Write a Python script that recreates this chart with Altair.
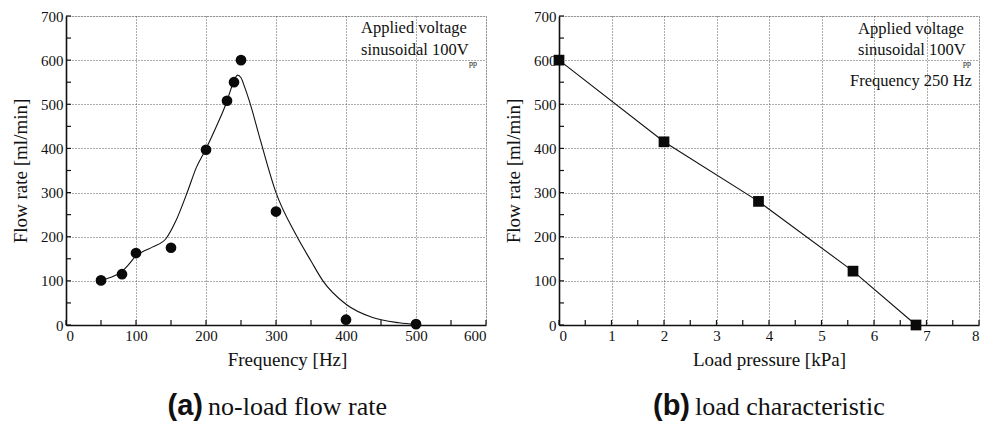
import altair as alt
import pandas as pd

# ---- data (a) no-load flow rate ----
freq_pts = [50, 80, 100, 150, 200, 230, 240, 250, 300, 400, 500]
flow_pts = [101, 115, 163, 175, 397, 508, 550, 600, 257, 12, 2]

curve_x = [50, 62, 79, 90, 100, 112, 124, 143, 157, 174, 186, 199, 214, 229, 238,
           245, 250, 255, 262, 278, 300, 328, 350, 367, 400, 438, 476, 500]
curve_y = [101, 107, 120, 138, 157, 168, 177, 196, 236, 304, 356, 396, 447, 503, 545,
           566, 560, 540, 507, 417, 300, 206, 145, 100, 47, 17, 5, 1]

# ---- data (b) load characteristic ----
press_pts = [0, 2, 3.8, 5.6, 6.8]
flow_b = [600, 415, 280, 122, 0]

# tick values
xa_major = [0, 100, 200, 300, 400, 500, 600]
xa_ticks = list(range(0, 601, 50))
xb_major = [0, 1, 2, 3, 4, 5, 6, 7, 8]
xb_ticks = [i * 0.5 for i in range(17)]
y_major = [0, 100, 200, 300, 400, 500, 600, 700]
y_ticks = list(range(0, 701, 50))

W, H = 420, 309
SERIF = "'Liberation Serif', 'Times New Roman', Times, serif"
SANS = "'Liberation Sans', Arial, Helvetica, sans-serif"
INK = "#111111"


def make_axis(title, values, orient, title_x=None):
    kw = dict(
        title=title, values=values, grid=True, gridDash=[1, 2], gridColor="#444444",
        gridWidth=0.9, ticks=False, domain=True, domainColor="#111111", domainWidth=1.6,
        labelFont=SERIF, labelFontSize=15, labelColor=INK, labelPadding=3,
        titleFont=SERIF, titleFontSize=19, titleFontWeight="normal", titleColor=INK,
    )
    if orient == "bottom":
        kw["titlePadding"] = 7
    else:
        kw["titlePadding"] = 10
    if title_x is not None:
        kw["titleX"] = title_x
    return alt.Axis(**kw)


def panel(xdomain, xmajor, xticks, xtitle, ydata_x, ydata_y, line_x, line_y,
          shape, interp, title_x, notes, caption_tag, caption_text, tag_x):
    xs = alt.Scale(domain=xdomain, nice=False, zero=False)
    ys = alt.Scale(domain=[0, 700], nice=False)
    xax = make_axis(xtitle, xmajor, "bottom", title_x)
    yax = make_axis("Flow rate [ml/min]", y_major, "left")

    pts = pd.DataFrame({"x": ydata_x, "y": ydata_y})
    ln = pd.DataFrame({"x": line_x, "y": line_y})

    line = alt.Chart(ln).mark_line(color="#111111", strokeWidth=1.1, interpolate=interp).encode(
        x=alt.X("x:Q", scale=xs, axis=xax),
        y=alt.Y("y:Q", scale=ys, axis=yax),
    )
    points = alt.Chart(pts).mark_point(shape=shape, filled=True, size=115, color="#0a0a0a", opacity=1).encode(
        x=alt.X("x:Q", scale=xs, axis=xax),
        y=alt.Y("y:Q", scale=ys, axis=yax),
    )
    xt = alt.Chart(pd.DataFrame({"x": xticks})).mark_rule(color="#111111", strokeWidth=1.2).encode(
        x=alt.X("x:Q", scale=xs, axis=xax),
        y=alt.value(H), y2=alt.value(H - 5),
    )
    yt = alt.Chart(pd.DataFrame({"y": y_ticks})).mark_rule(color="#111111", strokeWidth=1.2).encode(
        y=alt.Y("y:Q", scale=ys, axis=yax),
        x=alt.value(0), x2=alt.value(5),
    )
    layers = [line, points, xt, yt]
    for (tx, ty, txt, size) in notes:
        layers.append(
            alt.Chart(pd.DataFrame({"t": [txt]})).mark_text(
                font=SERIF, fontSize=size, color=INK, align="left", baseline="middle"
            ).encode(x=alt.value(tx), y=alt.value(ty), text="t:N")
        )
    layers.append(
        alt.Chart(pd.DataFrame({"t": [caption_tag]})).mark_text(
            font=SANS, fontSize=29, fontWeight="bold", color=INK, align="right", baseline="alphabetic"
        ).encode(x=alt.value(tag_x), y=alt.value(399), text="t:N")
    )
    layers.append(
        alt.Chart(pd.DataFrame({"t": [caption_text]})).mark_text(
            font=SERIF, fontSize=26, color=INK, align="left", baseline="alphabetic"
        ).encode(x=alt.value(tag_x + 5), y=alt.value(399), text="t:N")
    )
    return alt.layer(*layers).properties(width=W, height=H)


left = panel(
    [0, 600], xa_major, xa_ticks, "Frequency [Hz]", freq_pts, flow_pts, curve_x, curve_y,
    "circle", "monotone", 221,
    [(295, 12, "Applied voltage", 16.5), (295, 34, "sinusoidal 100V", 16.5), (403, 48, "pp", 8)],
    "(a)", "no-load flow rate", 137,
)
right = panel(
    [0, 8], xb_major, xb_ticks, "Load pressure [kPa]", press_pts, flow_b, press_pts, flow_b,
    "square", "linear", None,
    [(299, 13, "Applied voltage", 16.5), (299, 34, "sinusoidal 100V", 16.5), (404, 48, "pp", 8),
     (291, 65, "Frequency 250 Hz", 16.5)],
    "(b)", "load characteristic", 131,
)

chart = alt.hconcat(left, right, spacing=16).properties(
    padding={"left": 3, "top": 0, "right": 0, "bottom": 0}
).configure_view(stroke="#222222", strokeWidth=1.2).configure(background="white")

chart.save("out.html", embed_options={"renderer": "svg", "actions": False})
